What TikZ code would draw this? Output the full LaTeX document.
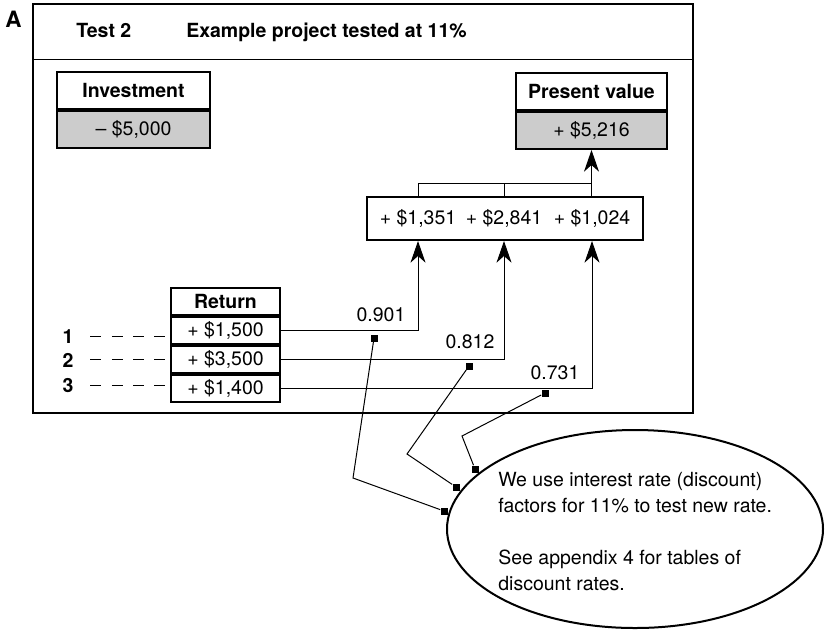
\documentclass[tikz,border=0pt]{standalone}
\usepackage{fontspec}
\setmainfont{TeX Gyre Heros}
\usetikzlibrary{arrows.meta,positioning,calc,shapes.geometric}
\definecolor{cellgray}{RGB}{204,204,204}

\tikzset{
  cell/.style={draw,line width=1.2pt,inner sep=0pt},
  invcell/.style={cell,minimum width=153*0.6pt,minimum height=37*0.6pt},
  pvcell/.style={cell,minimum width=151*0.6pt,minimum height=37*0.6pt},
  retcell/.style={cell,minimum width=109*0.6pt,minimum height=27*0.6pt},
  flow/.style={line width=0.6pt,-{Stealth[length=13pt,width=9pt,inset=4pt]}},
  link/.style={line width=0.6pt},
  leader/.style={line width=0.6pt,dash pattern=on 6.6pt off 6.2pt,
    shorten <=10pt,shorten >=3pt},
  dot/.style={fill,inner sep=0pt,minimum size=4.2pt},
  lbl/.style={font=\bfseries,inner sep=0pt,anchor=base}
}

\begin{document}
\fontsize{11.7}{15.6}\selectfont
\begin{tikzpicture}[x=0.6pt,y=-0.6pt]
  \useasboundingbox (0,0) rectangle (830,631);

  % frame and heading
  \node[lbl,anchor=base west,font=\fontsize{13.5}{16}\selectfont\bfseries] (panel) at (5,27) {A};
  \draw[line width=1.2pt] (33,4) rectangle (693,413);
  \draw[link] (33,59) -- (693,59);
  \node[lbl,anchor=base west] (test) at (76,37) {Test 2};
  \node[lbl,anchor=base west] (title) at (186,37) {Example project tested at 11\%};

  % investment and present value
  \node[invcell,font=\bfseries] (inv) at (133.5,90.5) {Investment};
  \node[invcell,fill=cellgray,below=0pt of inv] (invval) {-- \$5,000};
  \node[pvcell,font=\bfseries] (pv) at (591.5,91.5) {Present value};
  \node[pvcell,fill=cellgray,below=0pt of pv] (pvval) {+ \$5,216};

  % discounted values
  \node[draw,line width=1.2pt,minimum width=276*0.6pt,minimum height=43*0.6pt] (vbox) at (505,218.5) {};
  \node (v1) at (418,218.5) {+ \$1,351};
  \node (v2) at (504,218.5) {+ \$2,841};
  \node (v3) at (592,218.5) {+ \$1,024};
  \coordinate (join) at (592,183);
  \draw[link] (v1 |- vbox.north) |- (join);
  \draw[link] (v2 |- vbox.north) -- (v2 |- join);
  \draw[flow] (vbox.north -| pvval) -- (pvval.south);

  % returns
  \node[retcell,font=\bfseries] (ret) at (225.5,301.5) {Return};
  \node[retcell,below=0pt of ret] (r1) {+ \$1,500};
  \node[retcell,below=0pt of r1] (r2) {+ \$3,500};
  \node[retcell,below=0pt of r2] (r3) {+ \$1,400};
  \node[lbl] (n1) at (68,343) {1};
  \node[lbl] (n2) at (68,367) {2};
  \node[lbl] (n3) at (68,392) {3};
  \draw[leader] (n1.east) -- (r1.west |- n1.east);
  \draw[leader] (n2.east) -- (r2.west |- n2.east);
  \draw[leader] (n3.east) -- (r3.west |- n3.east);

  \draw[flow] (r1.east) -| (v1 |- vbox.south);
  \draw[flow] (r2.east) -| (v2 |- vbox.south);
  \draw[flow] (r3.east) -| (v3 |- vbox.south);
  \node (f1) at (381,315) {0.901};
  \node (f2) at (470,342) {0.812};
  \node (f3) at (555,373) {0.731};

  % note
  \node[draw,ellipse,line width=1.2pt,minimum width=376*0.6pt,minimum height=198*0.6pt] (note) at (635,529) {};
  \node[align=left,anchor=north west,inner sep=0pt] (notetext) at (498,472)
    {We use interest rate (discount)\\factors for 11\% to test new rate.\\[15.6pt]
     See appendix 4 for tables of\\discount rates.};
  \node[dot] (k1) at (374,338) {};
  \node[dot] (p1) at (444,511) {};
  \node[dot] (k2) at (469,366) {};
  \node[dot] (p2) at (456,487) {};
  \node[dot] (k3) at (545,393) {};
  \node[dot] (p3) at (475,469) {};
  \draw[link] (k1) -- (353,478) -- (p1);
  \draw[link] (k2) -- (407,454) -- (p2);
  \draw[link] (k3) -- (462,436) -- (p3);
\end{tikzpicture}
\end{document}
